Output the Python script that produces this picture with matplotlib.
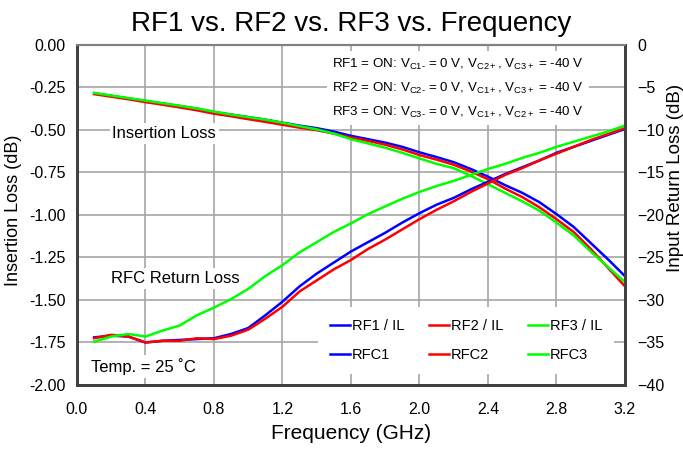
import matplotlib
matplotlib.use('Agg')
import matplotlib.pyplot as plt
import numpy as np

plt.rcParams['font.family'] = ['Liberation Sans', 'DejaVu Sans']
plt.rcParams['mathtext.fontset'] = 'custom'
plt.rcParams['mathtext.rm'] = 'Liberation Sans'
plt.rcParams['mathtext.it'] = 'Liberation Sans'

# frequenze in GHz
freq = [0.1, 0.2, 0.3, 0.4, 0.5, 0.6, 0.7, 0.8, 0.9, 1.0, 1.1, 1.2, 1.3, 1.4, 1.5, 1.6,
        1.7, 1.8, 1.9, 2.0, 2.1, 2.2, 2.3, 2.4, 2.5, 2.6, 2.7, 2.8, 2.9, 3.0, 3.1, 3.2]

# insertion loss (dB), asse sinistro
il_rf1 = [-0.285, -0.300, -0.315, -0.330, -0.345, -0.360, -0.375, -0.395, -0.410, -0.425,
          -0.440, -0.458, -0.475, -0.490, -0.510, -0.535, -0.555, -0.575, -0.600, -0.632,
          -0.660, -0.690, -0.730, -0.775, -0.825, -0.870, -0.925, -0.995, -1.070, -1.165,
          -1.260, -1.360]
il_rf2 = [-0.290, -0.305, -0.320, -0.337, -0.352, -0.368, -0.385, -0.405, -0.420, -0.437,
          -0.453, -0.470, -0.487, -0.502, -0.522, -0.545, -0.565, -0.587, -0.615, -0.648,
          -0.675, -0.705, -0.745, -0.790, -0.845, -0.895, -0.955, -1.025, -1.100, -1.200,
          -1.310, -1.420]
il_rf3 = [-0.283, -0.298, -0.313, -0.328, -0.343, -0.358, -0.374, -0.393, -0.410, -0.425,
          -0.440, -0.458, -0.478, -0.497, -0.522, -0.555, -0.580, -0.605, -0.635, -0.668,
          -0.700, -0.725, -0.770, -0.820, -0.870, -0.920, -0.975, -1.045, -1.120, -1.215,
          -1.305, -1.395]

# return loss (dB), asse destro
rl_rfc1 = [-34.4, -34.2, -34.3, -35.0, -34.8, -34.7, -34.6, -34.5, -34.0, -33.3, -31.8, -30.2,
           -28.4, -26.9, -25.6, -24.3, -23.2, -22.1, -20.9, -19.8, -18.8, -18.0, -17.0, -16.1,
           -15.2, -14.4, -13.6, -12.7, -12.0, -11.3, -10.6, -9.9]
rl_rfc2 = [-34.5, -34.1, -34.3, -35.0, -34.8, -34.8, -34.5, -34.6, -34.2, -33.5, -32.2, -30.8,
           -29.0, -27.7, -26.4, -25.3, -24.0, -22.9, -21.7, -20.5, -19.4, -18.4, -17.3, -16.3,
           -15.3, -14.5, -13.6, -12.8, -12.0, -11.2, -10.5, -9.8]
rl_rfc3 = [-34.9, -34.3, -34.0, -34.3, -33.6, -33.0, -31.8, -30.9, -29.9, -28.7, -27.2, -25.9,
           -24.4, -23.2, -22.0, -21.0, -19.9, -19.0, -18.1, -17.3, -16.6, -16.0, -15.3, -14.6,
           -14.0, -13.3, -12.7, -12.0, -11.4, -10.8, -10.2, -9.5]

fig = plt.figure(figsize=(6.83, 4.49), dpi=100)
ax = fig.add_axes([0.1127, 0.1425, 0.8023, 0.7577])
ax2 = ax.twinx()

blu, rosso, verde = '#0000ff', '#ff0000', '#00ff00'
lw = 1.8

l1, = ax.plot(freq, il_rf1, color=blu, lw=lw, label='RF1 / IL', zorder=3)
l2, = ax.plot(freq, il_rf2, color=rosso, lw=lw, label='RF2 / IL', zorder=3)
l3, = ax.plot(freq, il_rf3, color=verde, lw=lw, label='RF3 / IL', zorder=3)
r1, = ax2.plot(freq, rl_rfc1, color=blu, lw=lw, label='RFC1')
r2, = ax2.plot(freq, rl_rfc2, color=rosso, lw=lw, label='RFC2')
r3, = ax2.plot(freq, rl_rfc3, color=verde, lw=lw, label='RFC3')

ax.set_xlim(0, 3.2)
ax.set_ylim(-2.0, 0.0)
ax2.set_ylim(-40, 0)
ax.set_xticks(np.arange(0, 3.21, 0.4))
ax.set_xticklabels([f'{v:.1f}' for v in np.arange(0, 3.21, 0.4)])
ax.set_yticks(np.arange(-2.0, 0.01, 0.25))
ax.set_yticklabels([f'{v:.2f}' for v in np.arange(-2.0, 0.01, 0.25)])
ax2.set_yticks(np.arange(-40, 1, 5))

ax.grid(True, color='#a6a6a6', lw=1.2, zorder=0)
ax.set_axisbelow(True)
for a in (ax, ax2):
    a.tick_params(length=0, labelsize=11.5)
    a.spines['left'].set_color('#404040')
    a.spines['left'].set_linewidth(2)
    a.spines['bottom'].set_color('#404040')
    a.spines['bottom'].set_linewidth(2)
    a.spines['right'].set_color('#404040')
    a.spines['right'].set_linewidth(2)
    a.spines['top'].set_color('#808080')
    a.spines['top'].set_linewidth(1.5)
ax.tick_params(axis='x', pad=12)
ax.tick_params(axis='y', pad=8)
ax2.tick_params(axis='y', pad=9)

ax.set_title('RF1 vs. RF2 vs. RF3 vs. Frequency', fontsize=20, pad=10)
ax.set_xlabel('Frequency (GHz)', fontsize=15, labelpad=5)
ax.set_ylabel('Insertion Loss (dB)', fontsize=13)
ax2.set_ylabel('Input Return Loss (dB)', fontsize=13.5)
# etichette y posizionate come nel riferimento
ax.yaxis.set_label_coords(-0.1004, 0.514)
ax2.yaxis.set_label_coords(1.077, 0.61)

box = dict(facecolor='white', edgecolor='none', pad=2)
ax.text(0.51, -0.52, 'Insertion Loss', fontsize=12, ha='center', va='center', bbox=box, zorder=2)
ax.text(0.575, -1.372, 'RFC Return Loss', fontsize=12, ha='center', va='center', bbox=box, zorder=2)
ax.text(0.39, -1.89, 'Temp. = 25 ˚C', fontsize=12, ha='center', va='center', bbox=box, zorder=2)

righe = ('RF1 = ON: V$_{\\mathregular{C1\\text{-}}}$ = 0 V, V$_{\\mathregular{C2+}}$, V$_{\\mathregular{C3+}}$ = -40 V\n'
         'RF2 = ON: V$_{\\mathregular{C2\\text{-}}}$ = 0 V, V$_{\\mathregular{C1+}}$, V$_{\\mathregular{C3+}}$ = -40 V\n'
         'RF3 = ON: V$_{\\mathregular{C3\\text{-}}}$ = 0 V, V$_{\\mathregular{C1+}}$, V$_{\\mathregular{C2+}}$ = -40 V')
ax.text(2.96, -0.255, righe, fontsize=9.6, ha='right', va='center', linespacing=1.8,
        bbox=dict(facecolor='white', edgecolor='none', pad=4), zorder=2)

leg = ax2.legend([l1, r1, l2, r2, l3, r3], ['RF1 / IL', 'RFC1', 'RF2 / IL', 'RFC2', 'RF3 / IL', 'RFC3'],
                 ncol=3, loc='upper left', bbox_to_anchor=(0.44, 0.229), borderaxespad=0,
                 fontsize=10.5, frameon=True, fancybox=False, handlelength=1.4,
                 handletextpad=0.1, columnspacing=1.7, labelspacing=1.05, borderpad=0.8)
leg.get_frame().set_edgecolor('none')
leg.get_frame().set_facecolor('white')
leg.get_frame().set_alpha(1)

fig.savefig('out.png', dpi=100)
